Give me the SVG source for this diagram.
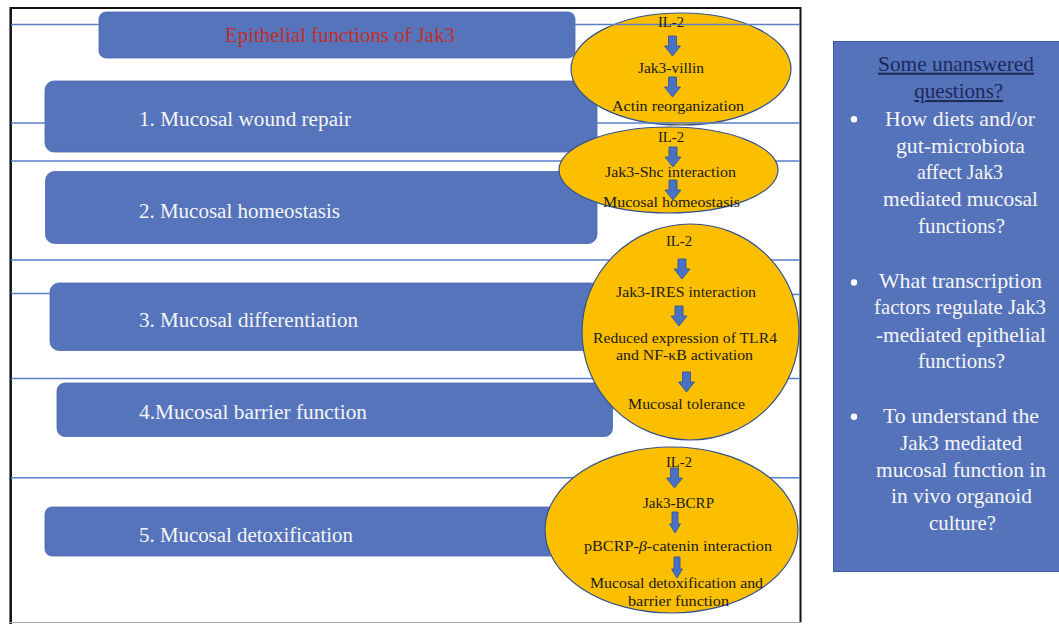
<svg xmlns="http://www.w3.org/2000/svg" width="1059" height="624" viewBox="0 0 1059 624">
<defs>
<style>
.box{fill:#5574bc;stroke:#4a68ad;stroke-width:0.8}
.ell{fill:#fbbf00;stroke:#34518f;stroke-width:1.2}
.arr{fill:#4a72c4;stroke:#2f528f;stroke-width:0.8}
.ln{stroke:#5b7fc8;stroke-width:1.5;fill:none}
.bt{font-family:"Liberation Serif",serif;font-size:20.5px;fill:#f5f5f5}
.et{font-family:"Liberation Serif",serif;font-size:15.5px;fill:#1a1a1a;text-anchor:middle}
.qt{font-family:"Liberation Serif",serif;font-size:21px;fill:#f5f5f5;text-anchor:middle}
.qh{font-family:"Liberation Serif",serif;font-size:21px;fill:#1e2a5a;text-anchor:middle;text-decoration:underline}
</style>
<path id="arrow" class="arr" d="M-4,0 H4 V10 H8 L0,20 L-8,10 H-4 Z"/>
<path id="arrowN" class="arr" d="M-3,0 H3 V12 H5.5 L0,21 L-5.5,12 H-3 Z"/>
</defs>
<rect width="1059" height="624" fill="#ffffff"/>
<g id="frame">
<line x1="10" y1="8" x2="801" y2="8" stroke="#111" stroke-width="2"/>
<line x1="10.7" y1="7" x2="10.7" y2="624" stroke="#111" stroke-width="2.5"/>
<line x1="800.5" y1="7" x2="800.5" y2="622" stroke="#111" stroke-width="2"/>
<line x1="10" y1="622.5" x2="801" y2="622.5" stroke="#aaaaaa" stroke-width="1"/>
</g>
<g id="title">
<rect class="box" x="99" y="12" width="476" height="46" rx="7"/>
<text x="225" y="41.5" font-family="Liberation Serif, serif" font-size="21" fill="#c0302a" textLength="230" lengthAdjust="spacingAndGlyphs">Epithelial functions of Jak3</text>
</g>
<g id="box1">
<rect class="box" x="45" y="81" width="552" height="71" rx="9"/>
<text class="bt" x="139" y="126" textLength="212" lengthAdjust="spacingAndGlyphs">1. Mucosal wound repair</text>
</g>
<g id="box2">
<rect class="box" x="45.5" y="171.5" width="551.5" height="72" rx="9"/>
<text class="bt" x="139" y="218.3" textLength="201" lengthAdjust="spacingAndGlyphs">2. Mucosal homeostasis</text>
</g>
<g id="box3">
<rect class="box" x="50" y="283" width="550" height="67.5" rx="9"/>
<text class="bt" x="139" y="326.7" textLength="219" lengthAdjust="spacingAndGlyphs">3. Mucosal differentiation</text>
</g>
<g id="box4">
<rect class="box" x="57" y="383" width="555.5" height="53.5" rx="8"/>
<text class="bt" x="139" y="419.3" textLength="228" lengthAdjust="spacingAndGlyphs">4.Mucosal barrier function</text>
</g>
<g id="box5">
<rect class="box" x="45" y="507" width="545" height="49" rx="7"/>
<text class="bt" x="139" y="541.7" textLength="214" lengthAdjust="spacingAndGlyphs">5. Mucosal detoxification</text>
</g>
<g id="pathway1">
<ellipse class="ell" cx="681" cy="69" rx="110" ry="56"/>
</g>
<g id="connectors">
<line class="ln" x1="11" y1="24.5" x2="99" y2="24.5"/>
<line class="ln" x1="575" y1="24.5" x2="800" y2="24.5"/>
<line class="ln" x1="11" y1="123" x2="45" y2="123"/>
<line class="ln" x1="597" y1="123" x2="800" y2="123"/>
<line class="ln" x1="11" y1="161" x2="800" y2="161"/>
<line class="ln" x1="11" y1="260" x2="800" y2="260"/>
<line class="ln" x1="11" y1="293.5" x2="50" y2="293.5"/>
<line class="ln" x1="600" y1="294.5" x2="800" y2="294.5"/>
<line class="ln" x1="11" y1="378.5" x2="800" y2="378.5"/>
<line class="ln" x1="11" y1="477.7" x2="800" y2="477.7"/>
</g>
<g id="pathway1-steps">
<text class="et" x="671" y="27" textLength="26" lengthAdjust="spacingAndGlyphs">IL-2</text>
<use href="#arrow" x="672.5" y="36"/>
<text class="et" x="671" y="72.7" textLength="66" lengthAdjust="spacingAndGlyphs">Jak3-villin</text>
<use href="#arrow" x="672.5" y="77"/>
<text class="et" x="678" y="111" textLength="132" lengthAdjust="spacingAndGlyphs">Actin reorganization</text>
</g>
<g id="pathway2">
<ellipse class="ell" cx="668.5" cy="170" rx="109.5" ry="43"/>
<text class="et" x="671" y="141.7" textLength="26" lengthAdjust="spacingAndGlyphs">IL-2</text>
<use href="#arrow" x="673" y="147"/>
<text class="et" x="670.5" y="176.7" textLength="131" lengthAdjust="spacingAndGlyphs">Jak3-Shc interaction</text>
<use href="#arrow" x="673" y="180"/>
<text class="et" x="671.5" y="207.3" textLength="137" lengthAdjust="spacingAndGlyphs">Mucosal homeostasis</text>
</g>
<g id="pathway3">
<ellipse class="ell" cx="690.5" cy="332" rx="108.5" ry="108"/>
<text class="et" x="679" y="246" textLength="26" lengthAdjust="spacingAndGlyphs">IL-2</text>
<use href="#arrow" x="682" y="259"/>
<text class="et" x="686" y="297" textLength="140" lengthAdjust="spacingAndGlyphs">Jak3-IRES interaction</text>
<use href="#arrow" x="679" y="306"/>
<text class="et" x="685" y="342.7" textLength="184" lengthAdjust="spacingAndGlyphs">Reduced expression of TLR4</text>
<text class="et" x="684.5" y="360" textLength="137" lengthAdjust="spacingAndGlyphs">and NF-κB activation</text>
<use href="#arrow" x="686.5" y="372"/>
<text class="et" x="686.5" y="409" textLength="117" lengthAdjust="spacingAndGlyphs">Mucosal tolerance</text>
</g>
<g id="pathway4">
<ellipse class="ell" cx="671.5" cy="530" rx="126.5" ry="83"/>
<text class="et" x="679" y="466.7" textLength="26" lengthAdjust="spacingAndGlyphs">IL-2</text>
<use href="#arrow" x="674.5" y="468"/>
<text class="et" x="678.5" y="508" textLength="71" lengthAdjust="spacingAndGlyphs">Jak3-BCRP</text>
<use href="#arrowN" x="675" y="512"/>
<text class="et" x="678" y="551" textLength="188" lengthAdjust="spacingAndGlyphs">pBCRP-<tspan font-style="italic">β</tspan>-catenin interaction</text>
<use href="#arrowN" x="677" y="557"/>
<text class="et" x="676.5" y="588" textLength="173" lengthAdjust="spacingAndGlyphs">Mucosal detoxification and</text>
<text class="et" x="678.5" y="605.7" textLength="101" lengthAdjust="spacingAndGlyphs">barrier function</text>
</g>
<g id="questions">
<rect x="833.5" y="41.5" width="230" height="530" fill="#5573bb" stroke="#3f5c9e" stroke-width="1"/>
<text class="qh" x="956" y="70.7" textLength="156" lengthAdjust="spacingAndGlyphs">Some unanswered</text>
<text class="qh" x="958.7" y="98" textLength="89" lengthAdjust="spacingAndGlyphs">questions?</text>
<circle cx="854" cy="119.3" r="3.2" fill="#ffffff"/>
<text class="qt" x="960" y="125.7" textLength="150" lengthAdjust="spacingAndGlyphs">How diets and/or</text>
<text class="qt" x="960.5" y="152.5" textLength="129" lengthAdjust="spacingAndGlyphs">gut-microbiota</text>
<text class="qt" x="960" y="179" textLength="86" lengthAdjust="spacingAndGlyphs">affect Jak3</text>
<text class="qt" x="960.5" y="206" textLength="155" lengthAdjust="spacingAndGlyphs">mediated mucosal</text>
<text class="qt" x="961.5" y="232.7" textLength="87" lengthAdjust="spacingAndGlyphs">functions?</text>
<circle cx="854" cy="282.5" r="3.2" fill="#ffffff"/>
<text class="qt" x="960.5" y="287.5" textLength="163" lengthAdjust="spacingAndGlyphs">What transcription</text>
<text class="qt" x="960" y="314" textLength="172" lengthAdjust="spacingAndGlyphs">factors regulate Jak3</text>
<text class="qt" x="961" y="341.5" textLength="170" lengthAdjust="spacingAndGlyphs">-mediated epithelial</text>
<text class="qt" x="961.5" y="368" textLength="87" lengthAdjust="spacingAndGlyphs">functions?</text>
<circle cx="854" cy="416.7" r="3.2" fill="#ffffff"/>
<text class="qt" x="961" y="422.7" textLength="156" lengthAdjust="spacingAndGlyphs">To understand the</text>
<text class="qt" x="961" y="450" textLength="122" lengthAdjust="spacingAndGlyphs">Jak3 mediated</text>
<text class="qt" x="961" y="476.7" textLength="170" lengthAdjust="spacingAndGlyphs">mucosal function in</text>
<text class="qt" x="961.5" y="503" textLength="141" lengthAdjust="spacingAndGlyphs">in vivo organoid</text>
<text class="qt" x="962.5" y="530" textLength="67" lengthAdjust="spacingAndGlyphs">culture?</text>
</g>
</svg>
